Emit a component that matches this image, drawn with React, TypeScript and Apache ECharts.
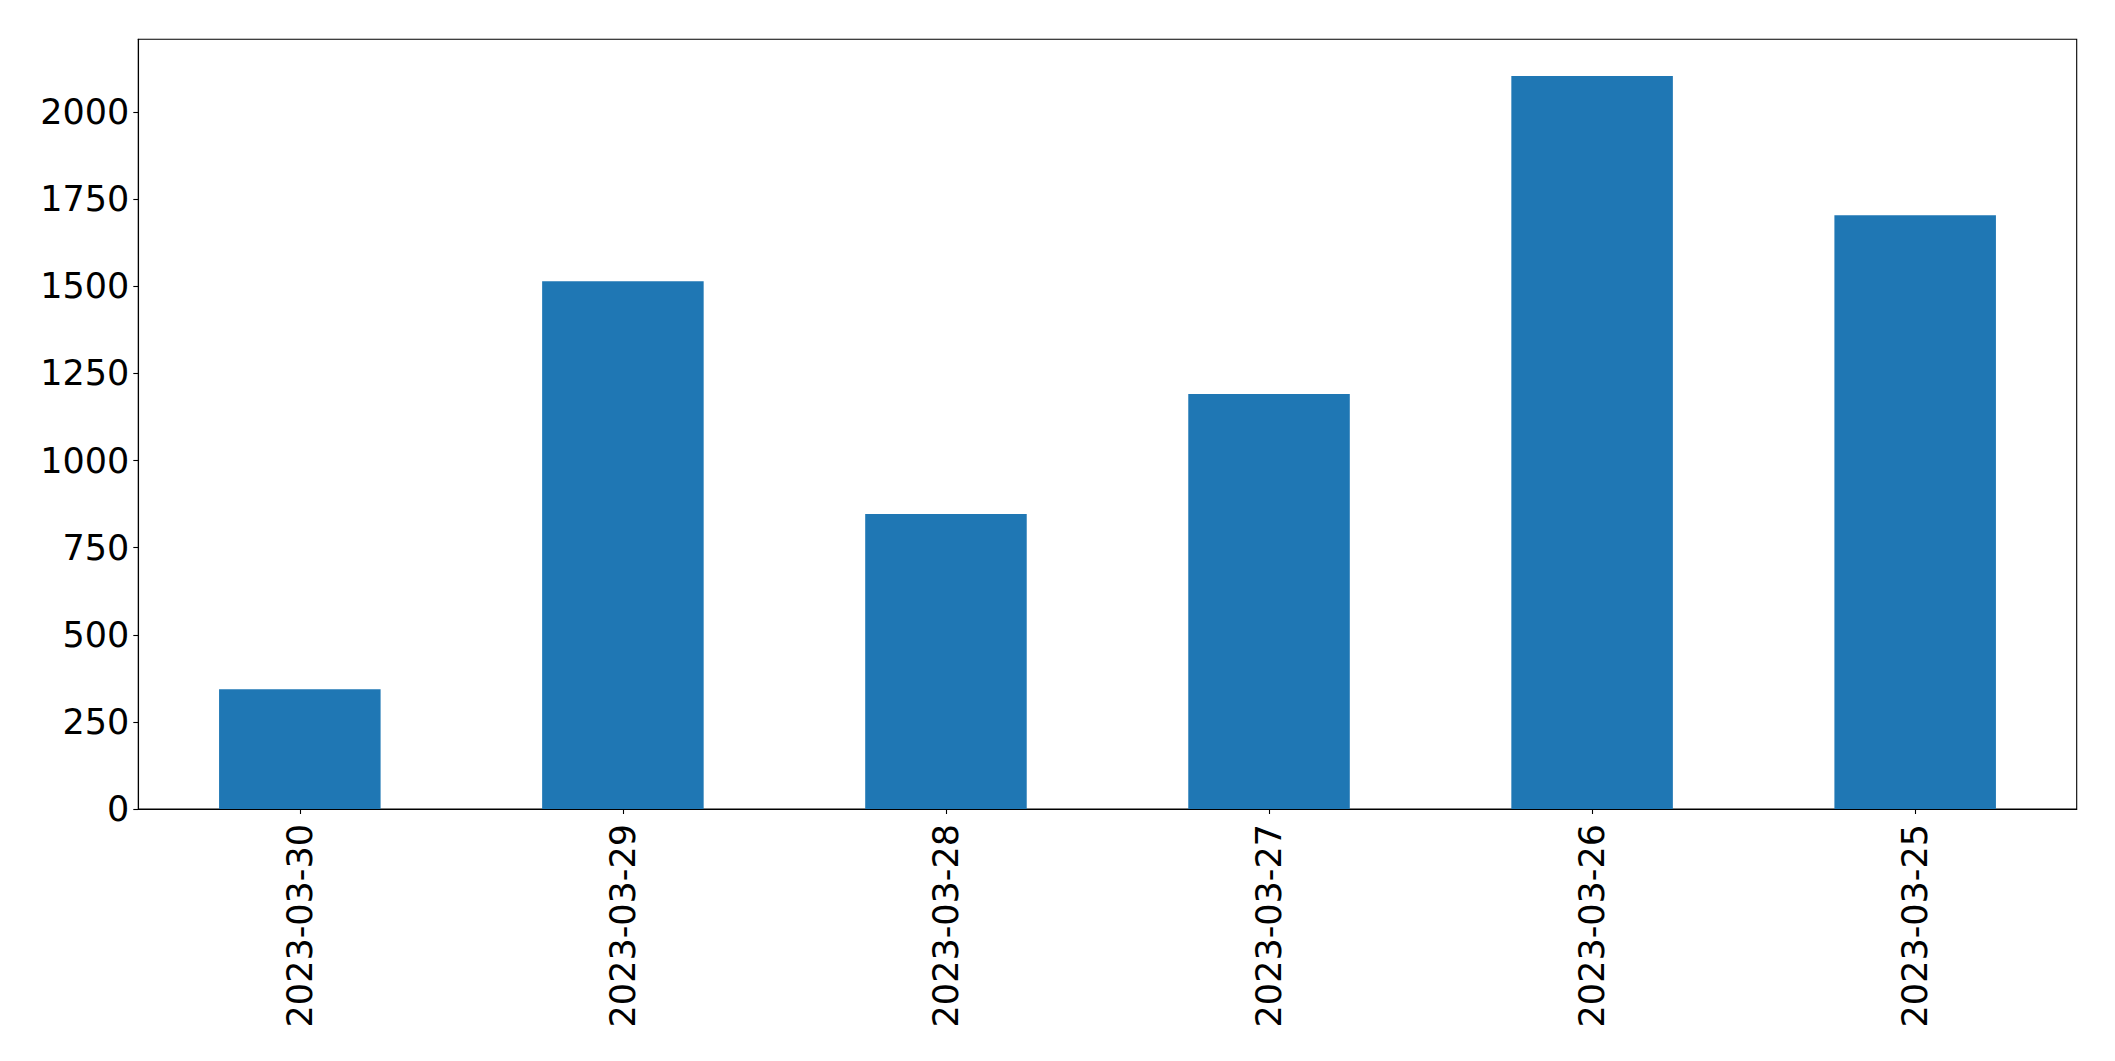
import React, { useEffect, useRef } from "react";
import * as echarts from "echarts";

const categories = ["2023-03-30", "2023-03-29", "2023-03-28", "2023-03-27", "2023-03-26", "2023-03-25"];
const values = [344, 1515, 847, 1191, 2104, 1704];
const yTicks = [0, 250, 500, 750, 1000, 1250, 1500, 1750, 2000];
const yMax = 2209.2;

export default function App() {
  const ref = useRef<HTMLDivElement>(null);
  useEffect(() => {
    if (!ref.current) return;
    const chart = echarts.init(ref.current, null, { renderer: "svg" });
    const font = "DejaVu Sans";
    chart.setOption({
      animation: false,
      backgroundColor: "#ffffff",
      grid: {
        left: 138.3,
        top: 39.3,
        right: 38.3,
        bottom: 252,
        show: true,
        borderColor: "#000000",
        borderWidth: 1.1,
        containLabel: false,
      },
      xAxis: {
        type: "category",
        data: categories,
        boundaryGap: true,
        axisLine: { show: true, lineStyle: { color: "#000000", width: 1.1 } },
        axisTick: { show: true, alignWithLabel: true, length: 5, lineStyle: { color: "#000000", width: 1.1 } },
        axisLabel: {
          rotate: 90,
          fontSize: 35,
          fontFamily: font,
          color: "#000000",
          margin: 15,
          interval: 0,
        },
        splitLine: { show: false },
      },
      yAxis: {
        type: "value",
        min: 0,
        max: yMax,
        axisLine: { show: true, lineStyle: { color: "#000000", width: 1.1 } },
        axisTick: { show: true, length: 5, lineStyle: { color: "#000000", width: 1.1 }, customValues: yTicks },
        axisLabel: {
          fontSize: 35,
          fontFamily: font,
          color: "#000000",
          margin: 9,
          customValues: yTicks,
          formatter: (v: number) => String(v),
        },
        splitLine: { show: false },
      },
      series: [
        {
          type: "bar",
          data: values,
          barWidth: "50%",
          itemStyle: { color: "#1f77b4" },
        },
      ],
    });
    return () => chart.dispose();
  }, []);
  return (
    <div
      ref={ref}
      style={{ position: "fixed", left: 0, top: 0, width: 2115, height: 1061, background: "#ffffff" }}
    />
  );
}
